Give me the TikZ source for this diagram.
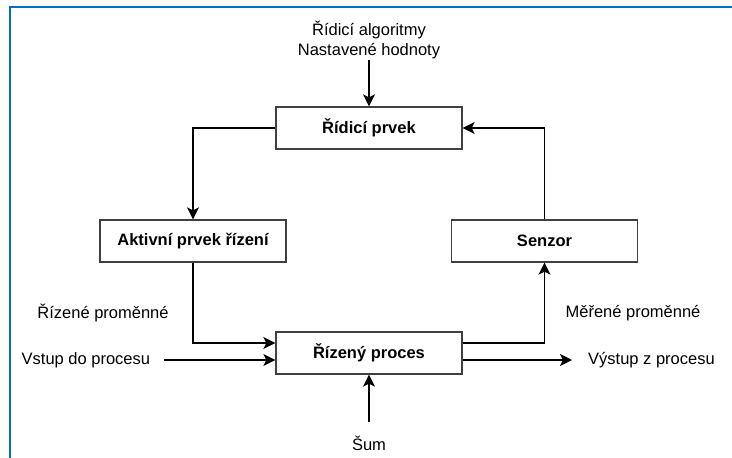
\documentclass[tikz,border=0pt]{standalone}
\usepackage{fontspec}
\setmainfont{Liberation Sans}
\usepackage{tikz}
\usetikzlibrary{shapes}
\usetikzlibrary{arrows.meta}
\usetikzlibrary{positioning}
\usetikzlibrary{calc}
\definecolor{ramec}{RGB}{0,112,192}
\tikzstyle{blok}=[
        rectangle,
        draw=black!75,
        line width=1.3pt,
        minimum width=186pt,
        minimum height=42pt,
        inner sep=0pt,
        font=\fontsize{16.5}{20}\selectfont\bfseries
]
\tikzstyle{popis}=[inner sep=0pt,align=center,font=\fontsize{16.5}{20}\selectfont]
\tikzstyle{spoj}=[-{Stealth[length=12pt,width=12pt,inset=3pt]},line width=1.5pt]
\tikzstyle{okraj}=[draw=ramec,line width=2.5pt]

\begin{document}
\begin{tikzpicture}[x=1pt,y=-1pt]
\useasboundingbox (0,0) rectangle (732,458);
\draw[okraj] (10,458) -- (10,7) -- (732,7);
\node[popis,anchor=south] (algo) at (369,59.5) {Řídicí algoritmy\\Nastavené hodnoty};
\node[blok] (ridici) at (369,128) {Řídicí prvek};
\node[blok] (aktivni) at (193,241) {Aktivní prvek řízení};
\node[blok] (senzor) at (544.5,241) {Senzor};
\node[blok] (proces) at (369,353) {Řízený proces};
\node[popis] (rizene) at (103,313) {Řízené proměnné};
\node[popis] (merene) at (633,313) {Měřené proměnné};
\node[popis,anchor=west] (vstup) at (21.5,360) {Vstup do procesu};
\node[popis,anchor=west] (vystup) at (588,360) {Výstup z procesu};
\node[popis] (sum) at (369,443) {Šum};
%Spojnice
\draw[spoj] (algo) -- (ridici);
\draw[spoj] (ridici.west) -| (aktivni.north);
\draw[spoj] (senzor.north) |- (ridici.east);
\draw[spoj] (aktivni.south) |- ([yshift=10pt]proces.west);
\draw[spoj] ([xshift=14pt]vstup.east) -- ([yshift=-7pt]proces.west);
\draw[spoj] ([yshift=10pt]proces.east) -| (senzor.south);
\draw[spoj] ([yshift=-7pt]proces.east) -- ([xshift=-16pt]vystup.west);
\draw[spoj] ([yshift=14pt]sum.north) -- (proces.south);
\end{tikzpicture}
\end{document}
